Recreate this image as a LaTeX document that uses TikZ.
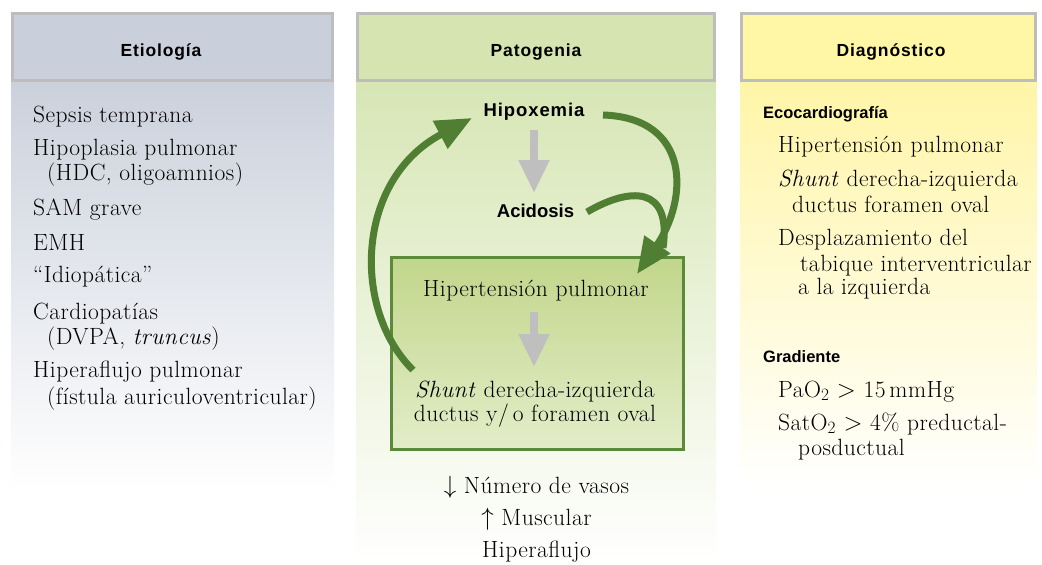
\documentclass[tikz,border=0pt]{standalone}
\usepackage{fontspec}
\setmainfont{Latin Modern Roman}[LetterSpace=2]
\newfontfamily\hdrfont[LetterSpace=5]{Liberation Sans}
\newfontfamily\keyfont[LetterSpace=5]{Liberation Sans}
\newfontfamily\subfont{Liberation Sans}
\usetikzlibrary{arrows.meta,calc}
\definecolor{hdrborder}{HTML}{BDBDBD}
\definecolor{etiohdr}{HTML}{C9D0DC}
\definecolor{patohdr}{HTML}{D5E4B1}
\definecolor{diaghdr}{HTML}{FFF7A6}
\definecolor{etiobody}{HTML}{CBD1DC}
\definecolor{patobody}{HTML}{D7E6B5}
\definecolor{diagbody}{HTML}{FFF5A8}
\definecolor{boxtop}{HTML}{C1D68B}
\definecolor{boxbot}{HTML}{E3EDC8}
\definecolor{boxline}{HTML}{5A8A3A}
\definecolor{loopgreen}{HTML}{507E33}
\definecolor{flowgray}{HTML}{BFBFBF}
\begin{document}
\begin{tikzpicture}[x=1pt,y=-1pt,
  serif/.style={font=\fontsize{23.5}{26}\selectfont, inner sep=0pt},
  lt/.style={serif, anchor=base west},
  ct/.style={serif, anchor=base},
  hdrtext/.style={font=\hdrfont\bfseries\fontsize{17.5}{20}\selectfont, anchor=base, inner sep=0pt},
  keytext/.style={font=\keyfont\bfseries\fontsize{18.5}{21}\selectfont, anchor=base, inner sep=0pt},
  subhead/.style={font=\subfont\bfseries\fontsize{16.5}{19}\selectfont, anchor=base west, inner sep=0pt},
  hdrbox/.style={draw=hdrborder, line width=3pt},
  loop/.style={draw=loopgreen, line width=7pt, -{Triangle[length=36pt,width=30pt]}},
  flow/.style={draw=flowgray, line width=8pt, -{Triangle[length=33pt,width=29pt]}},
]
\useasboundingbox (0,0) rectangle (1042,565);
\fill[white] (0,0) rectangle (1042,565);

% column bodies
\shade[top color=etiobody, bottom color=white] (11,82) rectangle (334,490);
\shade[top color=patobody, bottom color=white] (356,82) rectangle (716,565);
\shade[top color=diagbody, bottom color=white] (740,82) rectangle (1037,490);

% headers
\filldraw[hdrbox, fill=etiohdr] (12.5,13.5) rectangle (332.5,80.5);
\filldraw[hdrbox, fill=patohdr] (357.5,13.5) rectangle (714.5,80.5);
\filldraw[hdrbox, fill=diaghdr] (741.5,13.5) rectangle (1035.5,80.5);
\node[hdrtext] (hetio) at (161,56) {Etiología};
\node[hdrtext] (hpato) at (536,56) {Patogenia};
\node[hdrtext] (hdiag) at (891,56) {Diagnóstico};

% Etiologia
\node[lt] (e1) at (33,122) {Sepsis temprana};
\node[lt] (e2) at (33,155) {Hipoplasia pulmonar};
\node[lt] (e2b) at (47,180) {(HDC, oligoamnios)};
\node[lt] (e3) at (33,215) {SAM grave};
\node[lt] (e4) at (33,250) {EMH};
\node[lt] (e5) at (33,282) {``Idiopática''};
\node[lt] (e6) at (33,319) {Cardiopatías};
\node[lt] (e6b) at (47,344) {(DVPA, \textit{truncus})};
\node[lt] (e7) at (33,377) {Hiperaflujo pulmonar};
\node[lt] (e7b) at (47,404) {(fístula auriculoventricular)};

% Patogenia
\shade[top color=boxtop, bottom color=boxbot, draw=boxline, line width=3pt] (391,257) rectangle (683,449);
\node[keytext] (hipox) at (534,116) {Hipoxemia};
\node[keytext, font=\subfont\bfseries\fontsize{18.5}{21}\selectfont] (acid) at (535.5,217) {Acidosis};
\node[ct] (hpt) at (536,296) {Hipertensión pulmonar};
\node[ct] (sh1) at (535,397) {\textit{Shunt} derecha-izquierda};
\node[ct] (sh2) at (535,421) {ductus y/\,o foramen oval};
\node[ct] (m1) at (536.5,493) {$\downarrow$ Número de vasos};
\node[ct] (m2) at (536.5,525) {$\uparrow$ Muscular};
\node[ct] (m3) at (536.5,557) {Hiperaflujo};

\draw[flow] ($(hipox.base)+(0,14)$) -- ($(hipox.base |- acid.base)+(0,-24)$);
\draw[flow] ($(hpt.base)+(-2,16)$) -- ($(hpt.base |- sh1.base)+(-2,-30)$);

\coordinate (l1s) at (413,370);
\coordinate (l1e) at (472,118);
\coordinate (l2s) at (603,115);
\coordinate (l2e) at (637,274);
\coordinate (l3s) at (587,212);
\coordinate (l3e) at (663,248);
\draw[loop] (l1s) .. controls (352,310) and (355,180) .. (l1e);
\draw[draw=loopgreen, line width=7pt] (l3s) .. controls (630,187) and (672,185) .. (l3e);
\draw[loop] (l2s) .. controls (692,118) and (688,200) .. (l2e);

% Diagnostico
\node[subhead] (eco) at (763,118) {Ecocardiografía};
\node[lt] (d1) at (778,152) {Hipertensión pulmonar};
\node[lt] (d2) at (778,186) {\textit{Shunt} derecha-izquierda};
\node[lt] (d2b) at (792,212) {ductus foramen oval};
\node[lt] (d3) at (778,245) {Desplazamiento del};
\node[lt] (d3b) at (800,271) {tabique interventricular};
\node[lt] (d3c) at (798,294) {a la izquierda};
\node[subhead] (grad) at (763,362) {Gradiente};
\node[lt] (g1) at (778,397) {PaO$_2$ $>$ 15\,mmHg};
\node[lt] (g2) at (778,430) {SatO$_2$ $>$ 4\% preductal-};
\node[lt] (g2b) at (798,455) {posductual};
\end{tikzpicture}
\end{document}
